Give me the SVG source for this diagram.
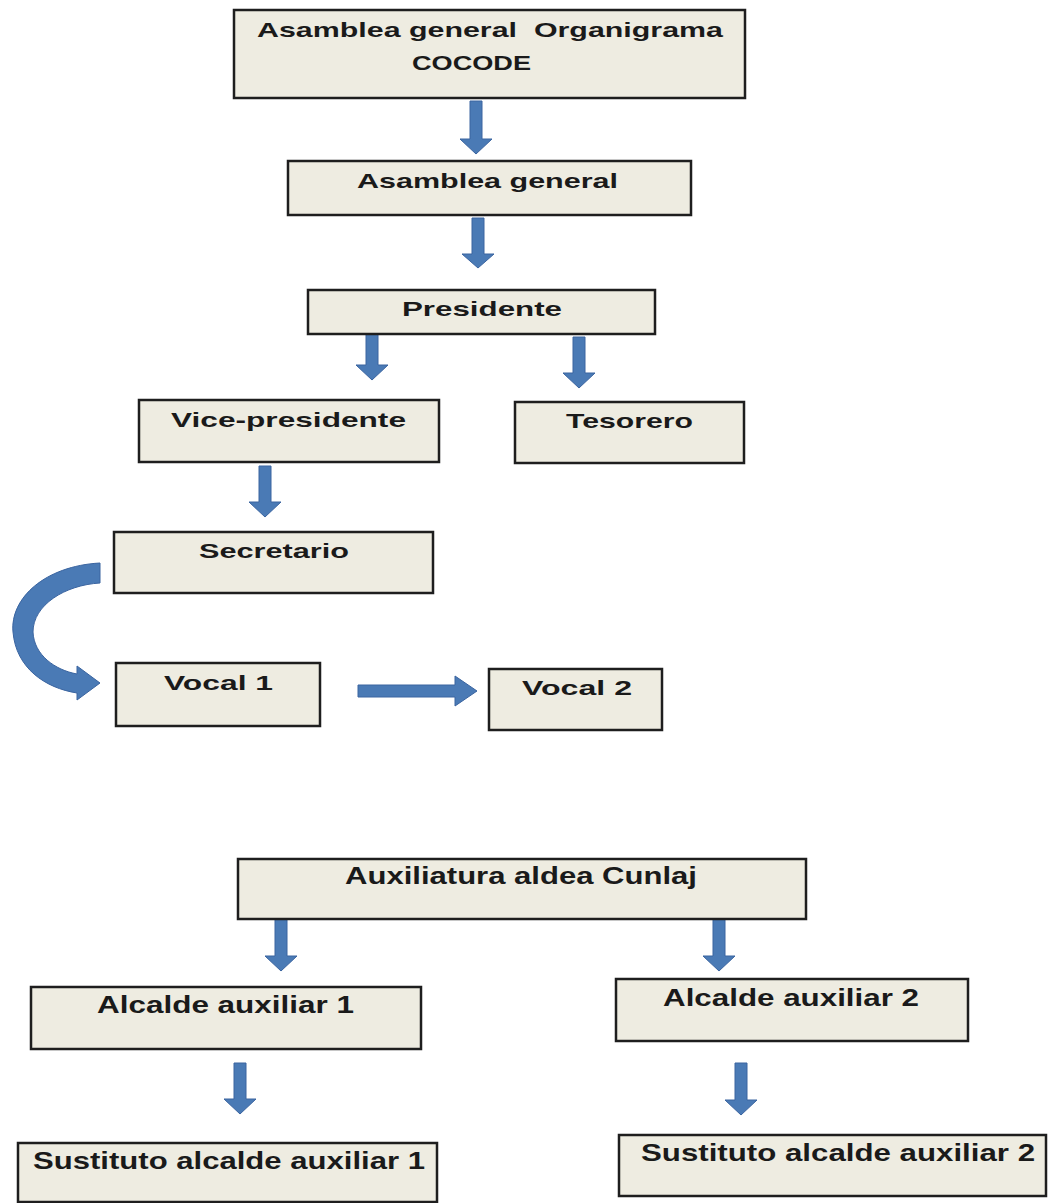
<svg xmlns="http://www.w3.org/2000/svg" width="1050" height="1203" viewBox="0 0 1050 1203">
<style>
.box{fill:#EEECE1;stroke:#1e1e1e;stroke-width:2.5}
.t{font-family:"Liberation Sans",Arial,sans-serif;font-weight:bold;font-size:21px;fill:#1a1a1a;text-anchor:middle;white-space:pre}
.tb{font-size:24px}
.arr{fill:#4A7AB5;stroke:#3A64A0;stroke-width:1}
</style>
<rect width="1050" height="1203" fill="#ffffff"/>
<g id="connectors">
<polygon class="arr" points="470,101 482,101 482,139 492,139 476,154 460,139 470,139"/>
<polygon class="arr" points="472,218 484,218 484,254 494,254 478,268 462,254 472,254"/>
<polygon class="arr" points="366,330 378,330 378,365 388,365 372,380 356,365 366,365"/>
<polygon class="arr" points="573,337 585,337 585,373 595,373 579,388 563,373 573,373"/>
<polygon class="arr" points="259,466 271,466 271,502 281,502 265,517 249,502 259,502"/>
<polygon class="arr" points="358,685 455,685 455,676 477,691 455,706 455,697 358,697"/>
<path class="arr" d="M100,563 C45,566 10,598 13,632 C16,668 45,688 77,693 L77,700 L100,683 L77,666 L77,674 C55,670 34,655 33,632 C33,605 65,585 100,583 Z"/>
<polygon class="arr" points="275,918 287,918 287,956 297,956 281,971 265,956 275,956"/>
<polygon class="arr" points="713,918 725,918 725,956 735,956 719,971 703,956 713,956"/>
<polygon class="arr" points="234,1063 246,1063 246,1099 256,1099 240,1114 224,1099 234,1099"/>
<polygon class="arr" points="735,1063 747,1063 747,1100 757,1100 741,1115 725,1100 735,1100"/>
</g>
<g id="n1"><rect class="box" x="234" y="10" width="511" height="88"/>
<text class="t" x="490" y="37" textLength="466" lengthAdjust="spacingAndGlyphs">Asamblea general  Organigrama</text>
<text class="t" x="471.5" y="70" textLength="119" lengthAdjust="spacingAndGlyphs">COCODE</text></g>
<g id="n2"><rect class="box" x="288" y="161" width="403" height="54"/>
<text class="t" x="487.5" y="188" textLength="261" lengthAdjust="spacingAndGlyphs">Asamblea general</text></g>
<g id="n3"><rect class="box" x="308" y="290" width="347" height="44"/>
<text class="t" x="482" y="316" textLength="160" lengthAdjust="spacingAndGlyphs">Presidente</text></g>
<g id="n4"><rect class="box" x="139" y="400" width="300" height="62"/>
<text class="t" x="288.5" y="427" textLength="235" lengthAdjust="spacingAndGlyphs">Vice-presidente</text></g>
<g id="n5"><rect class="box" x="515" y="402" width="229" height="61"/>
<text class="t" x="629.5" y="428" textLength="127" lengthAdjust="spacingAndGlyphs">Tesorero</text></g>
<g id="n6"><rect class="box" x="114" y="532" width="319" height="61"/>
<text class="t" x="274" y="558" textLength="150" lengthAdjust="spacingAndGlyphs">Secretario</text></g>
<g id="n7"><rect class="box" x="116" y="663" width="204" height="63"/>
<text class="t" x="218.5" y="690" textLength="109" lengthAdjust="spacingAndGlyphs">Vocal 1</text></g>
<g id="n8"><rect class="box" x="489" y="669" width="173" height="61"/>
<text class="t" x="577" y="695" textLength="110" lengthAdjust="spacingAndGlyphs">Vocal 2</text></g>
<g id="n9"><rect class="box" x="238" y="859" width="568" height="60"/>
<text class="t tb" x="521" y="884" textLength="352" lengthAdjust="spacingAndGlyphs">Auxiliatura aldea Cunlaj</text></g>
<g id="n10"><rect class="box" x="31" y="987" width="390" height="62"/>
<text class="t tb" x="225.5" y="1013" textLength="257" lengthAdjust="spacingAndGlyphs">Alcalde auxiliar 1</text></g>
<g id="n11"><rect class="box" x="616" y="979" width="352" height="62"/>
<text class="t tb" x="791" y="1006" textLength="256" lengthAdjust="spacingAndGlyphs">Alcalde auxiliar 2</text></g>
<g id="n12"><rect class="box" x="18" y="1143" width="419" height="59"/>
<text class="t tb" x="229" y="1169" textLength="392" lengthAdjust="spacingAndGlyphs">Sustituto alcalde auxiliar 1</text></g>
<g id="n13"><rect class="box" x="619" y="1135" width="427" height="61"/>
<text class="t tb" x="838" y="1161" textLength="394" lengthAdjust="spacingAndGlyphs">Sustituto alcalde auxiliar 2</text></g>
</svg>
